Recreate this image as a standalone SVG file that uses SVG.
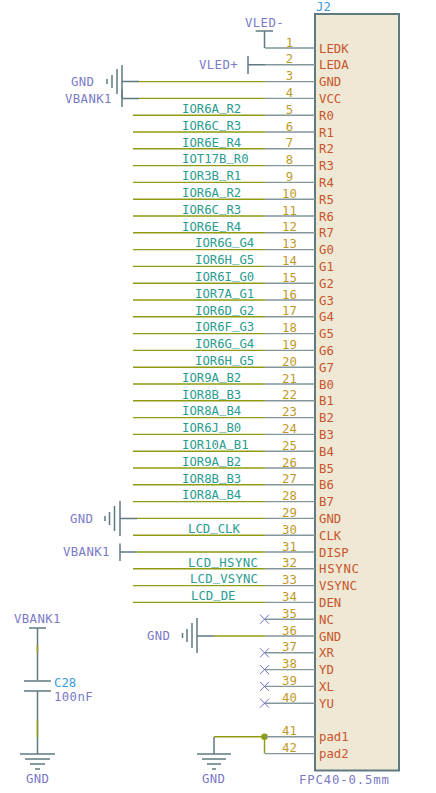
<svg xmlns="http://www.w3.org/2000/svg" width="436" height="793" viewBox="0 0 436 793">
<style>
text{font-family:"DejaVu Sans Mono","Liberation Mono",monospace;font-size:12.3px}
.pin{stroke:#84979b;stroke-width:1.4;fill:none}
.wire{stroke:#8f9c10;stroke-width:1.4;fill:none}
.sym{stroke:#5f7a80;stroke-width:1.5;fill:none}
.nc{stroke:#6f6fc8;stroke-width:1;fill:none}
.num{fill:#c09a28;text-anchor:middle}
.name{fill:#c8552b}
.net{fill:#2a9d8f}
.u{baseline-shift:2px}
.pwr{fill:#7a7ac8;letter-spacing:.4px}
.ref{fill:#3a9be0}
</style>
<rect width="436" height="793" fill="#ffffff"/>
<g id="connectors">
<path class="wire" d="M265 81.6H139M265 98.4H139M265 115.2H133M265 132H133M265 148.8H133M265 165.6H133M265 182.4H133M265 199.2H133M265 216H133M265 232.8H133M265 249.6H133M265 266.4H133M265 283.2H133M265 300H133M265 316.8H133M265 333.6H133M265 350.4H133M265 367.2H133M265 384H133M265 400.8H133M265 417.6H133M265 434.4H133M265 451.2H133M265 468H133M265 484.8H133M265 501.6H133M265 518.4H137M265 535.2H133M265 552H137M265 568.8H133M265 585.6H133M265 602.4H133M265 636H214M264.5 736.8H214M264.5 736.8V753.6"/>
<path class="sym" d="M139 81.6H122M139 98.4H122M137 518.4H120M137 552H120M214 636H197M214 737V754M37.5 628V680M37.5 691V754"/>
<circle cx="264.5" cy="736.8" r="3.3" fill="#8f9c10"/>
<path class="wire" d="M37.5 645V653M37.5 720V737"/>
</g>
<g id="J2">
<rect x="315" y="14" width="84" height="756.5" fill="#efe8d5" stroke="#5f7a80" stroke-width="2"/>
<text class="ref" x="316" y="11">J2</text>
<text class="pwr" x="299" y="784" style="letter-spacing:.85px">FPC40-0.5mm</text>
<path class="pin" d="M265 48H315M265 64.8H315M265 81.6H315M265 98.4H315M265 115.2H315M265 132H315M265 148.8H315M265 165.6H315M265 182.4H315M265 199.2H315M265 216H315M265 232.8H315M265 249.6H315M265 266.4H315M265 283.2H315M265 300H315M265 316.8H315M265 333.6H315M265 350.4H315M265 367.2H315M265 384H315M265 400.8H315M265 417.6H315M265 434.4H315M265 451.2H315M265 468H315M265 484.8H315M265 501.6H315M265 518.4H315M265 535.2H315M265 552H315M265 568.8H315M265 585.6H315M265 602.4H315M265 619.2H315M265 636H315M265 652.8H315M265 669.6H315M265 686.4H315M265 703.2H315M265 736.8H315M265 753.6H315"/>
<text class="num" x="289.5" y="46.5">1</text><text class="name" x="319" y="52.5">LEDK</text>
<text class="num" x="289.5" y="63.3">2</text><text class="name" x="319" y="69.3">LEDA</text>
<text class="num" x="289.5" y="80.1">3</text><text class="name" x="319" y="86.1">GND</text>
<text class="num" x="289.5" y="96.9">4</text><text class="name" x="319" y="102.9">VCC</text>
<text class="num" x="289.5" y="113.7">5</text><text class="name" x="319" y="119.7">R0</text>
<text class="num" x="289.5" y="130.5">6</text><text class="name" x="319" y="136.5">R1</text>
<text class="num" x="289.5" y="147.3">7</text><text class="name" x="319" y="153.3">R2</text>
<text class="num" x="289.5" y="164.1">8</text><text class="name" x="319" y="170.1">R3</text>
<text class="num" x="289.5" y="180.9">9</text><text class="name" x="319" y="186.9">R4</text>
<text class="num" x="289.5" y="197.7">10</text><text class="name" x="319" y="203.7">R5</text>
<text class="num" x="289.5" y="214.5">11</text><text class="name" x="319" y="220.5">R6</text>
<text class="num" x="289.5" y="231.3">12</text><text class="name" x="319" y="237.3">R7</text>
<text class="num" x="289.5" y="248.1">13</text><text class="name" x="319" y="254.1">G0</text>
<text class="num" x="289.5" y="264.9">14</text><text class="name" x="319" y="270.9">G1</text>
<text class="num" x="289.5" y="281.7">15</text><text class="name" x="319" y="287.7">G2</text>
<text class="num" x="289.5" y="298.5">16</text><text class="name" x="319" y="304.5">G3</text>
<text class="num" x="289.5" y="315.3">17</text><text class="name" x="319" y="321.3">G4</text>
<text class="num" x="289.5" y="332.1">18</text><text class="name" x="319" y="338.1">G5</text>
<text class="num" x="289.5" y="348.9">19</text><text class="name" x="319" y="354.9">G6</text>
<text class="num" x="289.5" y="365.7">20</text><text class="name" x="319" y="371.7">G7</text>
<text class="num" x="289.5" y="382.5">21</text><text class="name" x="319" y="388.5">B0</text>
<text class="num" x="289.5" y="399.3">22</text><text class="name" x="319" y="405.3">B1</text>
<text class="num" x="289.5" y="416.1">23</text><text class="name" x="319" y="422.1">B2</text>
<text class="num" x="289.5" y="432.9">24</text><text class="name" x="319" y="438.9">B3</text>
<text class="num" x="289.5" y="449.7">25</text><text class="name" x="319" y="455.7">B4</text>
<text class="num" x="289.5" y="466.5">26</text><text class="name" x="319" y="472.5">B5</text>
<text class="num" x="289.5" y="483.3">27</text><text class="name" x="319" y="489.3">B6</text>
<text class="num" x="289.5" y="500.1">28</text><text class="name" x="319" y="506.1">B7</text>
<text class="num" x="289.5" y="516.9">29</text><text class="name" x="319" y="522.9">GND</text>
<text class="num" x="289.5" y="533.7">30</text><text class="name" x="319" y="539.7">CLK</text>
<text class="num" x="289.5" y="550.5">31</text><text class="name" x="319" y="556.5">DISP</text>
<text class="num" x="289.5" y="567.3">32</text><text class="name" x="319" y="573.3" textLength="40">HSYNC</text>
<text class="num" x="289.5" y="584.1">33</text><text class="name" x="319" y="590.1" textLength="38">VSYNC</text>
<text class="num" x="289.5" y="600.9">34</text><text class="name" x="319" y="606.9">DEN</text>
<text class="num" x="289.5" y="617.7">35</text><text class="name" x="319" y="623.7">NC</text>
<text class="num" x="289.5" y="634.5">36</text><text class="name" x="319" y="640.5">GND</text>
<text class="num" x="289.5" y="651.3">37</text><text class="name" x="319" y="657.3">XR</text>
<text class="num" x="289.5" y="668.1">38</text><text class="name" x="319" y="674.1">YD</text>
<text class="num" x="289.5" y="684.9">39</text><text class="name" x="319" y="690.9">XL</text>
<text class="num" x="289.5" y="701.7">40</text><text class="name" x="319" y="707.7">YU</text>
<text class="num" x="289.5" y="735.3">41</text><text class="name" x="319" y="741.3">pad1</text>
<text class="num" x="289.5" y="752.1">42</text><text class="name" x="319" y="758.1">pad2</text>
</g>
<g id="net-labels">
<text class="net" x="182" y="113">IOR6A<tspan class="u">_</tspan>R2</text>
<text class="net" x="182" y="129.8">IOR6C<tspan class="u">_</tspan>R3</text>
<text class="net" x="182" y="146.6">IOR6E<tspan class="u">_</tspan>R4</text>
<text class="net" x="182" y="163.4">IOT17B<tspan class="u">_</tspan>R0</text>
<text class="net" x="182" y="180.2">IOR3B<tspan class="u">_</tspan>R1</text>
<text class="net" x="182" y="197">IOR6A<tspan class="u">_</tspan>R2</text>
<text class="net" x="182" y="213.8">IOR6C<tspan class="u">_</tspan>R3</text>
<text class="net" x="182" y="230.6">IOR6E<tspan class="u">_</tspan>R4</text>
<text class="net" x="195" y="247.4">IOR6G<tspan class="u">_</tspan>G4</text>
<text class="net" x="195" y="264.2">IOR6H<tspan class="u">_</tspan>G5</text>
<text class="net" x="195" y="281">IOR6I<tspan class="u">_</tspan>G0</text>
<text class="net" x="195" y="297.8">IOR7A<tspan class="u">_</tspan>G1</text>
<text class="net" x="195" y="314.6">IOR6D<tspan class="u">_</tspan>G2</text>
<text class="net" x="195" y="331.4">IOR6F<tspan class="u">_</tspan>G3</text>
<text class="net" x="195" y="348.2">IOR6G<tspan class="u">_</tspan>G4</text>
<text class="net" x="195" y="365">IOR6H<tspan class="u">_</tspan>G5</text>
<text class="net" x="182" y="381.8">IOR9A<tspan class="u">_</tspan>B2</text>
<text class="net" x="182" y="398.6">IOR8B<tspan class="u">_</tspan>B3</text>
<text class="net" x="182" y="415.4">IOR8A<tspan class="u">_</tspan>B4</text>
<text class="net" x="182" y="432.2">IOR6J<tspan class="u">_</tspan>B0</text>
<text class="net" x="182" y="449">IOR10A<tspan class="u">_</tspan>B1</text>
<text class="net" x="182" y="465.8">IOR9A<tspan class="u">_</tspan>B2</text>
<text class="net" x="182" y="482.6">IOR8B<tspan class="u">_</tspan>B3</text>
<text class="net" x="182" y="499.4">IOR8A<tspan class="u">_</tspan>B4</text>
<text class="net" x="188" y="533">LCD<tspan class="u">_</tspan>CLK</text>
<text class="net" x="188" y="566.6" textLength="70">LCD<tspan class="u">_</tspan>HSYNC</text>
<text class="net" x="190" y="583.4" textLength="68">LCD<tspan class="u">_</tspan>VSYNC</text>
<text class="net" x="191" y="600.2">LCD<tspan class="u">_</tspan>DE</text>
</g>
<g id="VLED-minus"><path class="sym" d="M255.7 31H273M264.5 31V48"/><text class="pwr" x="245" y="27">VLED-</text></g>
<g id="VLED-plus"><path class="sym" d="M248 56V74M248 64.8H265"/><text class="pwr" x="199" y="69">VLED+</text></g>
<g id="GND-3"><path class="sym" d="M122 65V98M117 69V94M112 75V88"/><path class="sym" d="M107 79V84"/><text class="pwr" x="71" y="85.5">GND</text></g>
<g id="VBANK1-4"><path class="sym" d="M122 90V107"/><text class="pwr" x="65" y="102.5">VBANK1</text></g>
<g id="GND-29"><path class="sym" d="M120 501V536M114.5 506V531M109.5 512V525M105 516V521"/><text class="pwr" x="70" y="522.5">GND</text></g>
<g id="VBANK1-31"><path class="sym" d="M120 543.5V561"/><text class="pwr" x="63" y="556">VBANK1</text></g>
<g id="GND-36"><path class="sym" d="M197 618V653M192 623V648M187 629V642M182.5 633V638"/><text class="pwr" x="147" y="640">GND</text></g>
<g id="no-connects"><path class="nc" d="M260 614.7L269 623.7M269 614.7L260 623.7M260 648.3L269 657.3M269 648.3L260 657.3M260 665.1L269 674.1M269 665.1L260 674.1M260 681.9L269 690.9M269 681.9L260 690.9M260 698.7L269 707.7M269 698.7L260 707.7"/></g>
<g id="C28">
<path class="sym" d="M29 628H46M24 681H51M24 691H51"/>
<text class="pwr" x="14" y="623">VBANK1</text>
<text class="ref" x="54" y="687">C28</text>
<text class="pwr" x="54" y="701">100nF</text>
</g>
<g id="GND-C28"><path class="sym" d="M20 754H55M25 759H50M30 764H45M35 769H40"/><text class="pwr" x="26" y="783">GND</text></g>
<g id="GND-pad"><path class="sym" d="M197 754H231M202 759H226M207 764H221M212 769H216"/><text class="pwr" x="202" y="783">GND</text></g>
</svg>
